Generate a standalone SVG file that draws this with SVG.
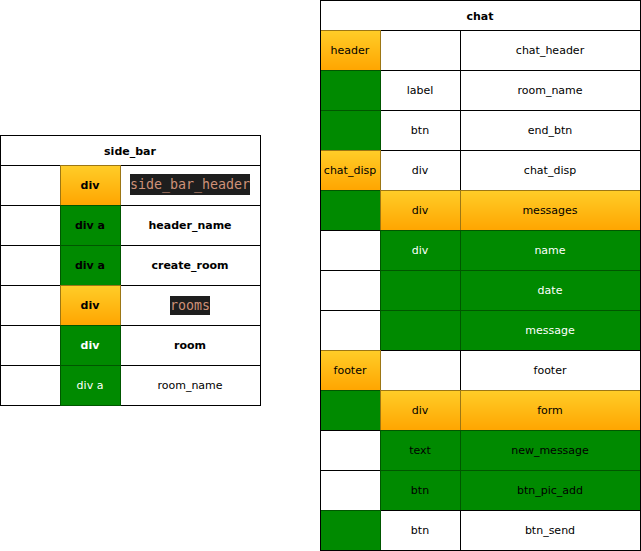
<svg xmlns="http://www.w3.org/2000/svg" width="641" height="551" viewBox="0 0 641 551">
<defs>
<linearGradient id="og" x1="0" y1="0" x2="0" y2="1">
<stop offset="0" stop-color="#ffcd28"/>
<stop offset="1" stop-color="#ffa500"/>
</linearGradient>
</defs>
<style>
.w{fill:#ffffff;stroke:#000000;stroke-width:1}
.g{fill:#008a00;stroke:#005700;stroke-width:1}
.o{fill:url(#og);stroke:#9c7614;stroke-width:1}
.hd{fill:#ffffff;stroke:#000000;stroke-width:1}
text{font-family:"DejaVu Sans","Liberation Sans",sans-serif;font-size:11px;text-anchor:middle;fill:#000000}
.b{font-weight:bold}
.wt{fill:#ffffff}
.code{font-family:"DejaVu Sans Mono","Liberation Mono",monospace;font-size:13.3px;fill:#ce9178}
.cbg{fill:#1e1e1e}
</style>
<rect width="641" height="551" fill="#ffffff"/>
<g id="side_bar">
<g id="sb-title"><rect class="hd" x="0.5" y="135.5" width="260" height="30"/><text class="b" x="130" y="155">side_bar</text></g>
<g id="sb-r1">
<rect class="w" x="0.5" y="165.5" width="60" height="40"/>
<rect class="w" x="120.5" y="165.5" width="140" height="40"/>
<rect class="o" x="60.5" y="165.5" width="60" height="40"/>
<text class="b" x="90" y="189">div</text>
<rect class="cbg" x="130" y="174" width="120" height="21"/>
<text class="code" x="190" y="189">side_bar_header</text>
</g>
<g id="sb-r2">
<rect class="w" x="0.5" y="205.5" width="60" height="40"/>
<rect class="w" x="120.5" y="205.5" width="140" height="40"/>
<rect class="g" x="60.5" y="205.5" width="60" height="40"/>
<text class="b" x="90" y="229">div a</text>
<text class="b" x="190" y="229">header_name</text>
</g>
<g id="sb-r3">
<rect class="w" x="0.5" y="245.5" width="60" height="40"/>
<rect class="w" x="120.5" y="245.5" width="140" height="40"/>
<rect class="g" x="60.5" y="245.5" width="60" height="40"/>
<text class="b" x="90" y="269">div a</text>
<text class="b" x="190" y="269">create_room</text>
</g>
<g id="sb-r4">
<rect class="w" x="0.5" y="285.5" width="60" height="40"/>
<rect class="w" x="120.5" y="285.5" width="140" height="40"/>
<rect class="o" x="60.5" y="285.5" width="60" height="40"/>
<text class="b" x="90" y="309">div</text>
<rect class="cbg" x="170" y="296" width="40" height="19"/>
<text class="code" x="190" y="310">rooms</text>
</g>
<g id="sb-r5">
<rect class="w" x="0.5" y="325.5" width="60" height="40"/>
<rect class="w" x="120.5" y="325.5" width="140" height="40"/>
<rect class="g" x="60.5" y="325.5" width="60" height="40"/>
<text class="b wt" x="90" y="349">div</text>
<text class="b" x="190" y="349">room</text>
</g>
<g id="sb-r6">
<rect class="w" x="0.5" y="365.5" width="60" height="40"/>
<rect class="w" x="120.5" y="365.5" width="140" height="40"/>
<rect class="g" x="60.5" y="365.5" width="60" height="40"/>
<text class="wt" x="90" y="389">div a</text>
<text x="190" y="389">room_name</text>
</g>
</g>
<g id="chat">
<g id="ch-title"><rect class="hd" x="320.5" y="0.5" width="320" height="30"/><text class="b" x="480" y="20">chat</text></g>
<g id="ch-r1">
<rect class="w" x="380.5" y="30.5" width="80" height="40"/>
<rect class="w" x="460.5" y="30.5" width="180" height="40"/>
<rect class="o" x="320.5" y="30.5" width="60" height="40"/>
<text x="350" y="54">header</text>
<text x="550" y="54">chat_header</text>
</g>
<g id="ch-r2">
<rect class="w" x="380.5" y="70.5" width="80" height="40"/>
<rect class="w" x="460.5" y="70.5" width="180" height="40"/>
<rect class="g" x="320.5" y="70.5" width="60" height="40"/>
<text x="420" y="94">label</text>
<text x="550" y="94">room_name</text>
</g>
<g id="ch-r3">
<rect class="w" x="380.5" y="110.5" width="80" height="40"/>
<rect class="w" x="460.5" y="110.5" width="180" height="40"/>
<rect class="g" x="320.5" y="110.5" width="60" height="40"/>
<text x="420" y="134">btn</text>
<text x="550" y="134">end_btn</text>
</g>
<g id="ch-r4">
<rect class="w" x="380.5" y="150.5" width="80" height="40"/>
<rect class="w" x="460.5" y="150.5" width="180" height="40"/>
<rect class="o" x="320.5" y="150.5" width="60" height="40"/>
<text x="350" y="174">chat_disp</text>
<text x="420" y="174">div</text>
<text x="550" y="174">chat_disp</text>
</g>
<g id="ch-r5">
<rect class="g" x="320.5" y="190.5" width="60" height="40"/>
<rect class="o" x="380.5" y="190.5" width="80" height="40"/>
<rect class="o" x="460.5" y="190.5" width="180" height="40"/>
<text x="420" y="214">div</text>
<text x="550" y="214">messages</text>
</g>
<g id="ch-r6">
<rect class="w" x="320.5" y="230.5" width="60" height="40"/>
<rect class="g" x="380.5" y="230.5" width="80" height="40"/>
<rect class="g" x="460.5" y="230.5" width="180" height="40"/>
<text class="wt" x="420" y="254">div</text>
<text class="wt" x="550" y="254">name</text>
</g>
<g id="ch-r7">
<rect class="w" x="320.5" y="270.5" width="60" height="40"/>
<rect class="g" x="380.5" y="270.5" width="80" height="40"/>
<rect class="g" x="460.5" y="270.5" width="180" height="40"/>
<text class="wt" x="550" y="294">date</text>
</g>
<g id="ch-r8">
<rect class="w" x="320.5" y="310.5" width="60" height="40"/>
<rect class="g" x="380.5" y="310.5" width="80" height="40"/>
<rect class="g" x="460.5" y="310.5" width="180" height="40"/>
<text class="wt" x="550" y="334">message</text>
</g>
<g id="ch-r9">
<rect class="w" x="380.5" y="350.5" width="80" height="40"/>
<rect class="w" x="460.5" y="350.5" width="180" height="40"/>
<rect class="o" x="320.5" y="350.5" width="60" height="40"/>
<text x="350" y="374">footer</text>
<text x="550" y="374">footer</text>
</g>
<g id="ch-r10">
<rect class="g" x="320.5" y="390.5" width="60" height="40"/>
<rect class="o" x="380.5" y="390.5" width="80" height="40"/>
<rect class="o" x="460.5" y="390.5" width="180" height="40"/>
<text x="420" y="414">div</text>
<text x="550" y="414">form</text>
</g>
<g id="ch-r11">
<rect class="w" x="320.5" y="430.5" width="60" height="40"/>
<rect class="g" x="380.5" y="430.5" width="80" height="40"/>
<rect class="g" x="460.5" y="430.5" width="180" height="40"/>
<text x="420" y="454">text</text>
<text x="550" y="454">new_message</text>
</g>
<g id="ch-r12">
<rect class="w" x="320.5" y="470.5" width="60" height="40"/>
<rect class="g" x="380.5" y="470.5" width="80" height="40"/>
<rect class="g" x="460.5" y="470.5" width="180" height="40"/>
<text x="420" y="494">btn</text>
<text x="550" y="494">btn_pic_add</text>
</g>
<g id="ch-r13">
<rect class="w" x="380.5" y="510.5" width="80" height="40"/>
<rect class="w" x="460.5" y="510.5" width="180" height="40"/>
<rect class="g" x="320.5" y="510.5" width="60" height="40"/>
<text x="420" y="534">btn</text>
<text x="550" y="534">btn_send</text>
</g>
<rect x="320.5" y="0.5" width="320" height="550" fill="none" stroke="#000000"/>
</g>
<g id="connectors"/>
</svg>
